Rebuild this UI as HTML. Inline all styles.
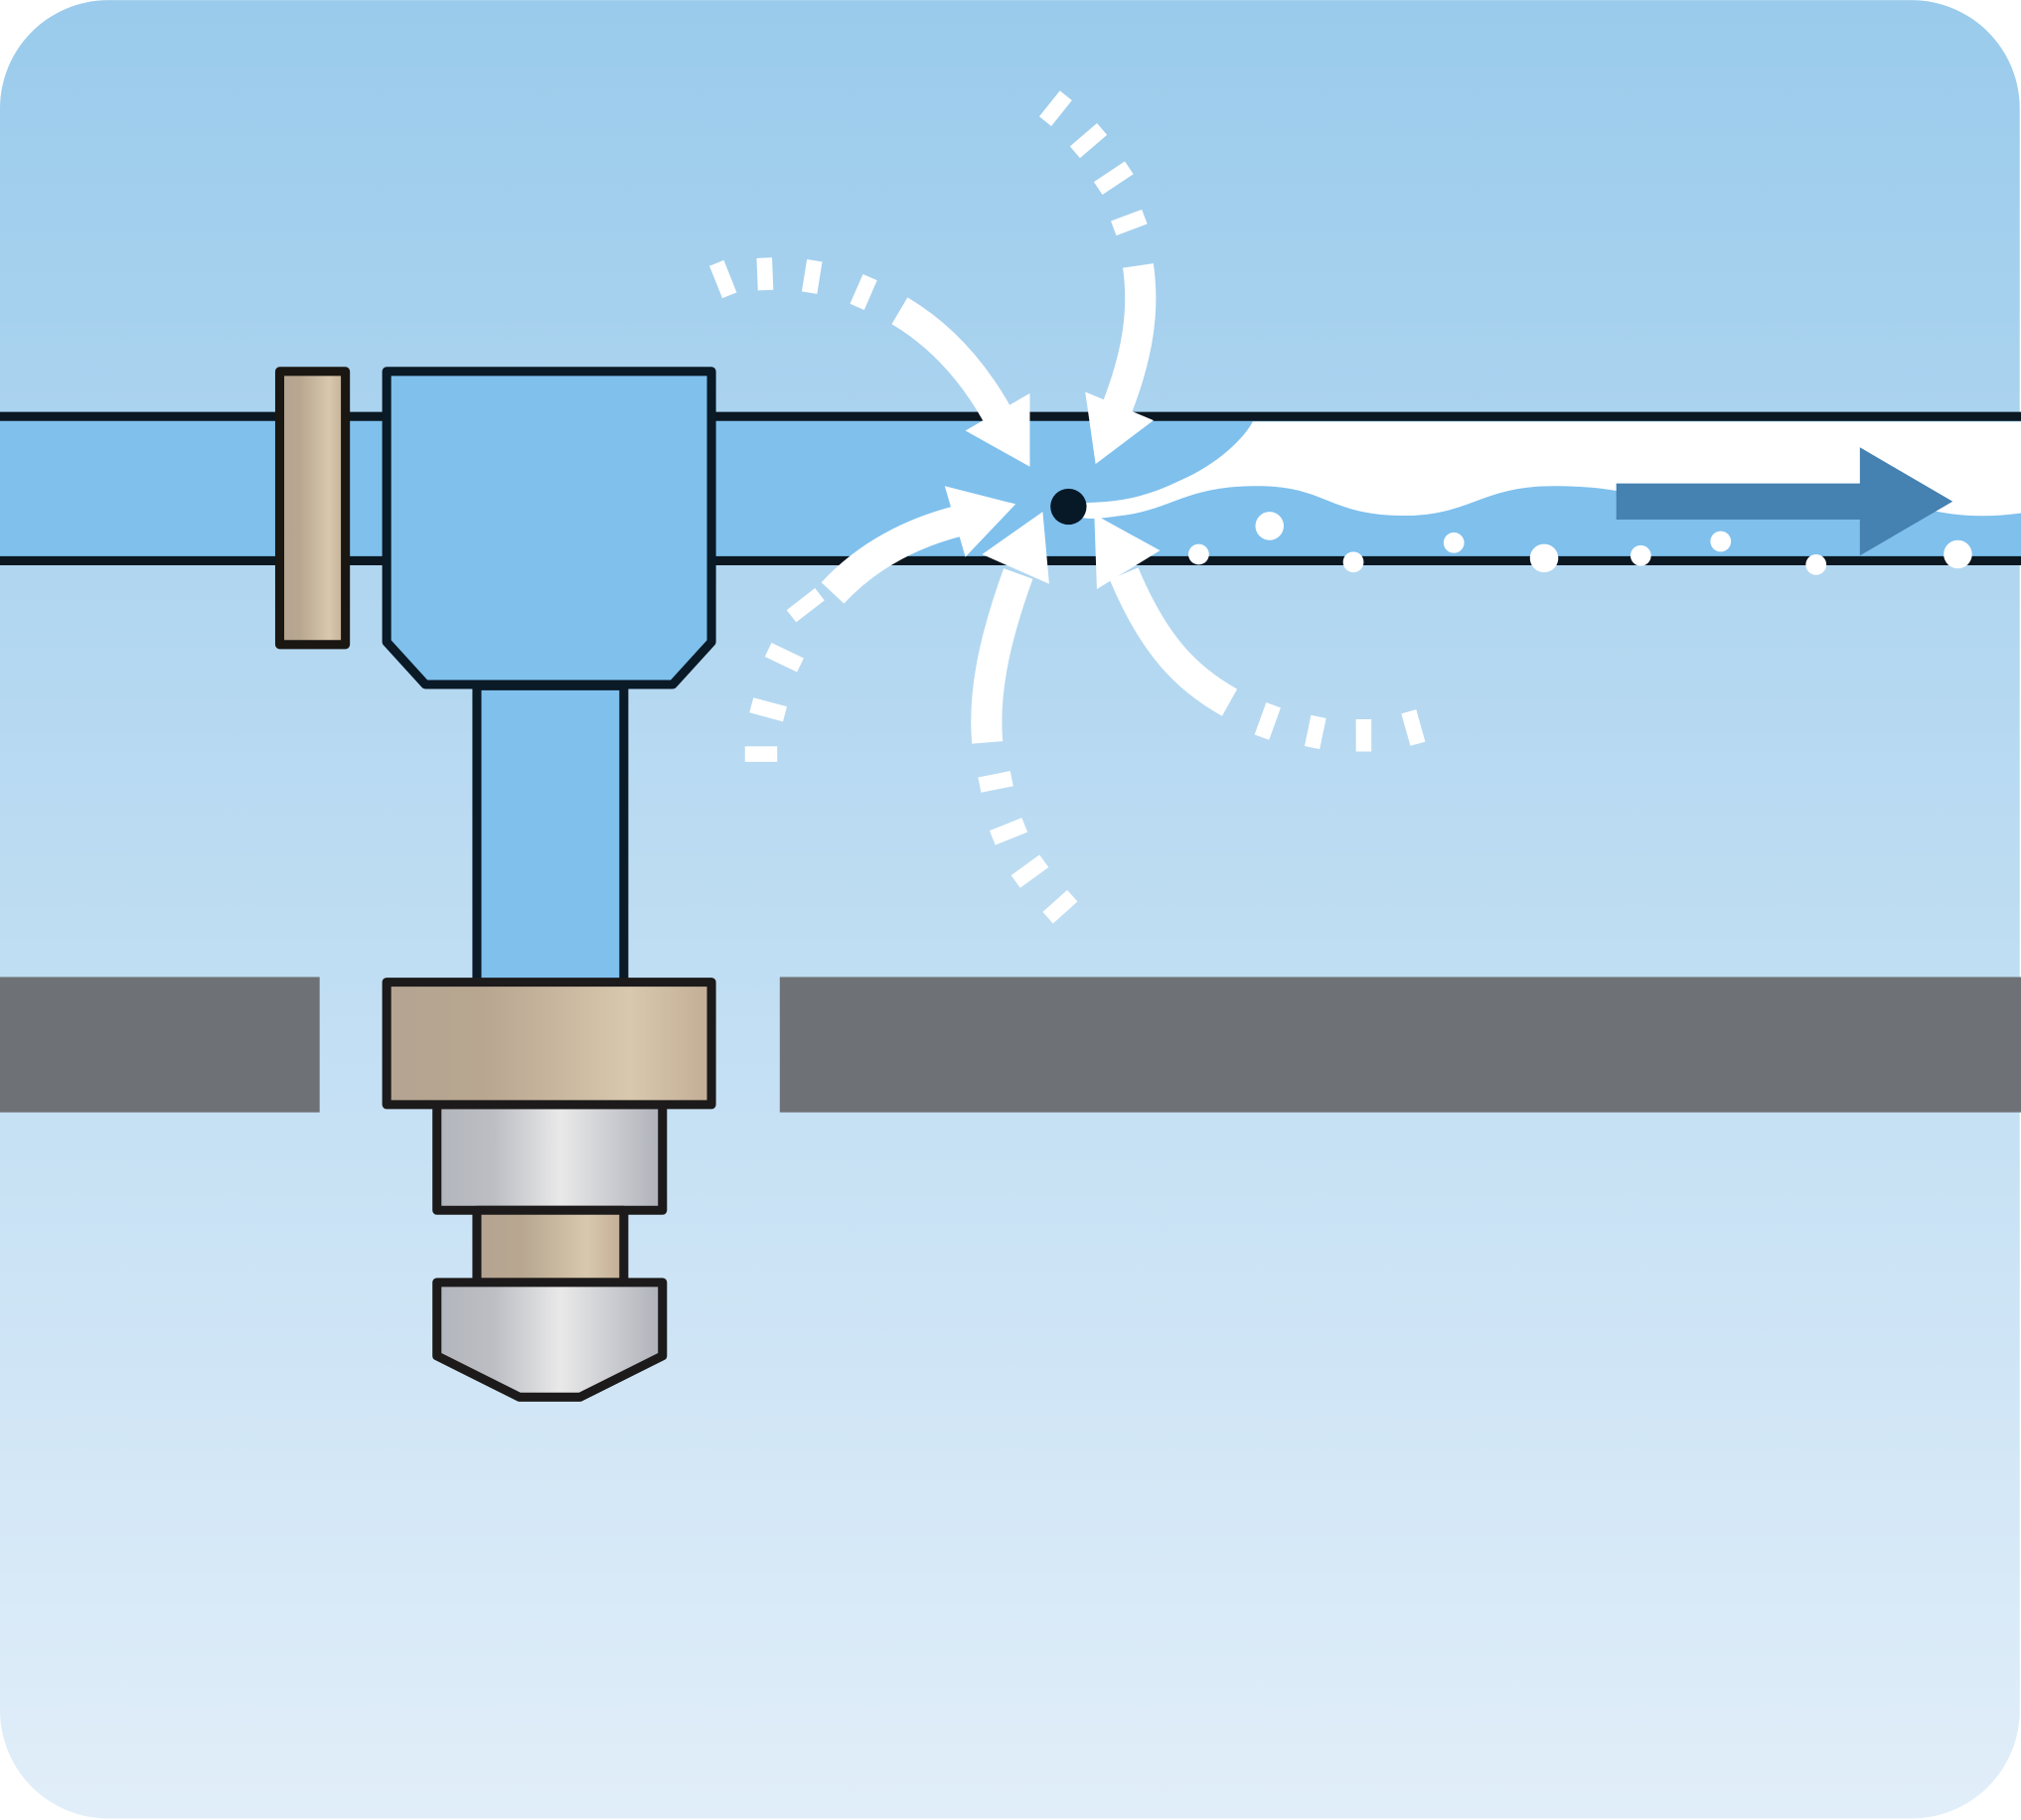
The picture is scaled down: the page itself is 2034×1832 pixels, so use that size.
<!DOCTYPE html>
<html><head><style>html,body{margin:0;padding:0;background:#fff}svg{display:block}</style></head><body>
<svg width="2034" height="1832" viewBox="0 0 1568 1412" xmlns="http://www.w3.org/2000/svg">
<defs>
<linearGradient id="bg" x1="0" y1="0" x2="0" y2="1"><stop offset="0" stop-color="#9acbec"/><stop offset="1" stop-color="#e1eef9"/></linearGradient>
<linearGradient id="tan" x1="0" y1="0" x2="1" y2="0"><stop offset="0" stop-color="#b4a491"/><stop offset="0.3" stop-color="#b8a690"/><stop offset="0.75" stop-color="#d8c8ad"/><stop offset="1" stop-color="#c2ad95"/></linearGradient>
<linearGradient id="sil" x1="0" y1="0" x2="1" y2="0"><stop offset="0" stop-color="#b3b5bc"/><stop offset="0.25" stop-color="#bcbec4"/><stop offset="0.55" stop-color="#e9e9e9"/><stop offset="1" stop-color="#aeb0b9"/></linearGradient>
</defs>
<rect x="0" y="0" width="1567" height="1411" rx="84" fill="url(#bg)"/>
<rect x="0" y="326" width="1568" height="107" fill="#7fc0ed"/>
<path d="M970,327 L1568,327 L1568,398 C1540,402 1515,400 1495,395 L1300,395 C1270,382 1245,377 1205,377 C1150,377 1140,400 1090,400 C1030,400 1030,377 975,377 C920,377 910,395 870,400 C850,403 840,403 836,400 L836,390 C870,390 890,385 915,373 C945,360 965,340 972,327 Z" fill="#fff"/>
<line x1="0" y1="323" x2="1568" y2="323" stroke="#0b1822" stroke-width="7"/>
<line x1="0" y1="435" x2="1568" y2="435" stroke="#0b1822" stroke-width="7"/>
<g fill="#fff"><circle cx="930" cy="430" r="8"/><circle cx="985" cy="408" r="11"/><circle cx="1050" cy="436" r="8"/><circle cx="1128" cy="421" r="8"/><circle cx="1198" cy="433" r="11"/><circle cx="1273" cy="431" r="8"/><circle cx="1335" cy="420" r="8"/><circle cx="1409" cy="438" r="8"/><circle cx="1519" cy="430" r="11"/></g>
<path d="M1254,375 L1443,375 L1443,347 L1515,389 L1443,431 L1443,403 L1254,403 Z" fill="#4581b1"/>
<rect x="0" y="758" width="248" height="105" fill="#6e7276"/>
<rect x="605" y="758" width="963" height="105" fill="#6e7276"/>
<g stroke="#0a1a26" stroke-width="7" stroke-linejoin="round">
<rect x="217" y="288" width="51" height="212" fill="url(#tan)" stroke="#1a1612"/>
<rect x="370" y="532" width="114" height="232" fill="#7fc0ed"/>
<path d="M300,288 L552,288 L552,498 L522,531 L330,531 L300,498 Z" fill="#7fc0ed"/>
</g>
<g stroke="#1c1a1a" stroke-width="7" stroke-linejoin="round">
<rect x="339" y="857" width="175" height="82" fill="url(#sil)"/>
<rect x="370" y="939" width="114" height="56" fill="url(#tan)"/>
<rect x="300" y="762" width="252" height="95" fill="url(#tan)"/>
<path d="M339,995 L514,995 L514,1052 L450,1084 L403,1084 L339,1052 Z" fill="url(#sil)"/>
</g>
<circle cx="829" cy="393" r="14" fill="#071826"/>
<g fill="none" stroke="#fff" stroke-width="24">
<path d="M698,241 C730,260 755,288 774,322"/>
<path d="M883,206 C888,240 883,275 866,318"/>
<path d="M646,460 C672,432 705,414 744,404"/>
<path d="M766,576 C763,540 770,500 790,445"/>
<path d="M954,545 C920,526 895,500 872,445"/>
</g>
<g fill="#fff">
<polygon points="749,334 799,305 799,362"/>
<polygon points="842,304 895,326 850,360"/>
<polygon points="733,377 788,391 749,432"/>
<polygon points="762,430 809,397 814,453"/>
<polygon points="849,399 900,427 851,457"/>
</g>
<g stroke="#fff" stroke-width="12">
<line x1="556" y1="204" x2="566" y2="229"/><line x1="593" y1="200" x2="594" y2="225"/><line x1="632" y1="202" x2="628" y2="227"/><line x1="675" y1="215" x2="665" y2="238"/>
<line x1="827" y1="74" x2="811" y2="94"/><line x1="855" y1="100" x2="834" y2="118"/><line x1="876" y1="130" x2="852" y2="146"/><line x1="888" y1="168" x2="864" y2="177"/>
<line x1="636" y1="461" x2="614" y2="478"/><line x1="621" y1="516" x2="596" y2="504"/><line x1="609" y1="554" x2="583" y2="547"/><line x1="603" y1="585" x2="578" y2="585"/>
<line x1="785" y1="604" x2="760" y2="609"/><line x1="795" y1="640" x2="770" y2="650"/><line x1="810" y1="668" x2="788" y2="684"/><line x1="832" y1="695" x2="813" y2="712"/>
<line x1="988" y1="547" x2="979" y2="572"/><line x1="1023" y1="556" x2="1018" y2="580"/><line x1="1058" y1="558" x2="1058" y2="583"/><line x1="1093" y1="552" x2="1100" y2="577"/>
</g>
</svg>
</body></html>
